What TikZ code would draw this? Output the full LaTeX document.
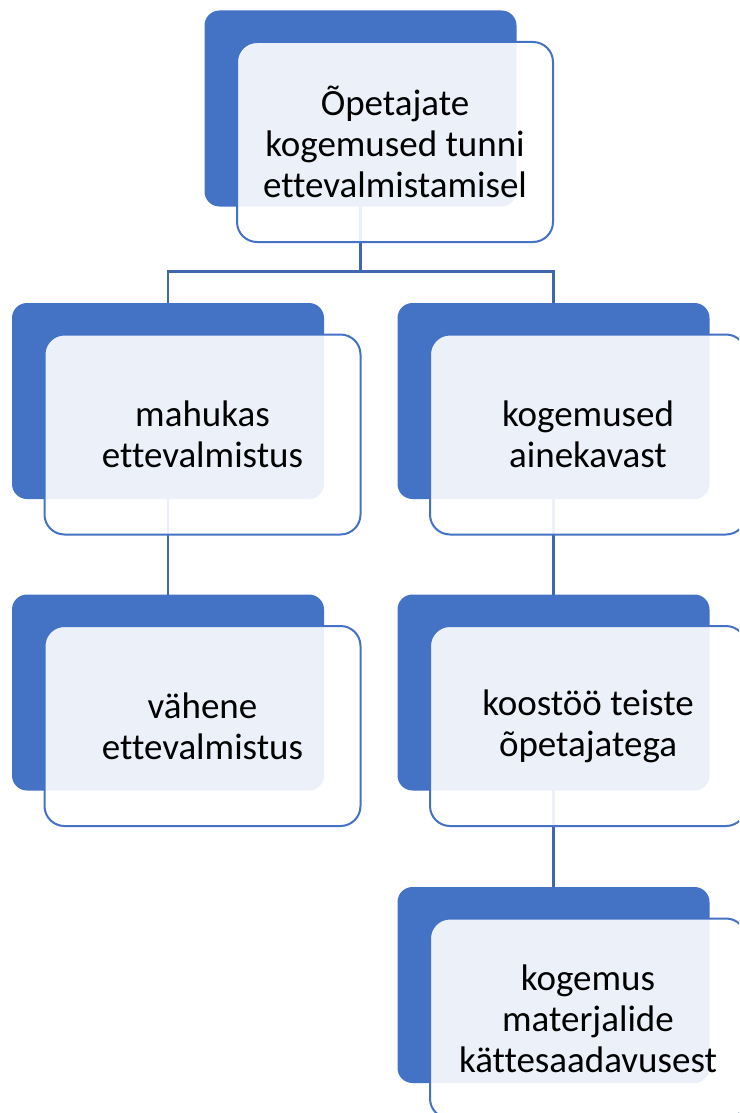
\documentclass[tikz,border=0pt]{standalone}
\usepackage{fontspec}
\setmainfont{Carlito}[Ligatures=NoCommon]
\usetikzlibrary{positioning}
\definecolor{accent}{HTML}{4472C4}
\definecolor{linkblue}{HTML}{3F66AE}

\begin{document}
\begin{tikzpicture}[
            x=1pt,y=-1pt,
            back/.style={fill=accent,rounded corners=15pt,minimum width=312pt,minimum height=196pt},
            front/.style={draw=accent,line width=2pt,fill=white,fill opacity=0.9,text opacity=1,
                rounded corners=20pt,minimum width=316pt,minimum height=200pt,align=center,
                font=\fontsize{37}{41}\selectfont},
            link/.style={draw=linkblue,line width=2.2pt}
        ]
        \clip (0,0) rectangle (739,1113);
        \useasboundingbox (0,0) rectangle (739,1113);
        % connectors go first, under the boxes
        \coordinate (b0c) at (360.5,108.5);
        \coordinate (b1c) at (168,401);
        \coordinate (b2c) at (553.5,401);
        \coordinate (b3c) at (168,692.5);
        \coordinate (b4c) at (553.5,692.5);
        \coordinate (b5c) at (553.5,985);
        \coordinate (j0) at (360.5,271.5);
        \draw[link] (b0c) -- (j0) -| (b1c);
        \draw[link] (j0) -| (b2c);
        \draw[link] (b1c) -- (b3c);
        \draw[link] (b2c) -- (b4c) -- (b5c);
        % boxes
        \node[back] (b0) at (b0c) {};
        \node[front] (f0) at ([shift={(34.5,33.5)}]b0.center) {Õpetajate\\kogemused tunni\\ettevalmistamisel};
        \node[back] (b1) at (b1c) {};
        \node[front] (f1) at ([shift={(34.5,33.5)}]b1.center) {mahukas\\ettevalmistus};
        \node[back] (b2) at (b2c) {};
        \node[front] (f2) at ([shift={(34.5,33.5)}]b2.center) {kogemused\\ainekavast};
        \node[back] (b3) at (b3c) {};
        \node[front] (f3) at ([shift={(34.5,33.5)}]b3.center) {vähene\\ettevalmistus};
        \node[back] (b4) at (b4c) {};
        \node[front] (f4) at ([shift={(34.5,33.5)}]b4.center) {koostöö teiste\\õpetajatega};
        \node[back] (b5) at (b5c) {};
        \node[front] (f5) at ([shift={(34.5,33.5)}]b5.center) {kogemus\\materjalide\\kättesaadavusest};
\end{tikzpicture}
\end{document}
